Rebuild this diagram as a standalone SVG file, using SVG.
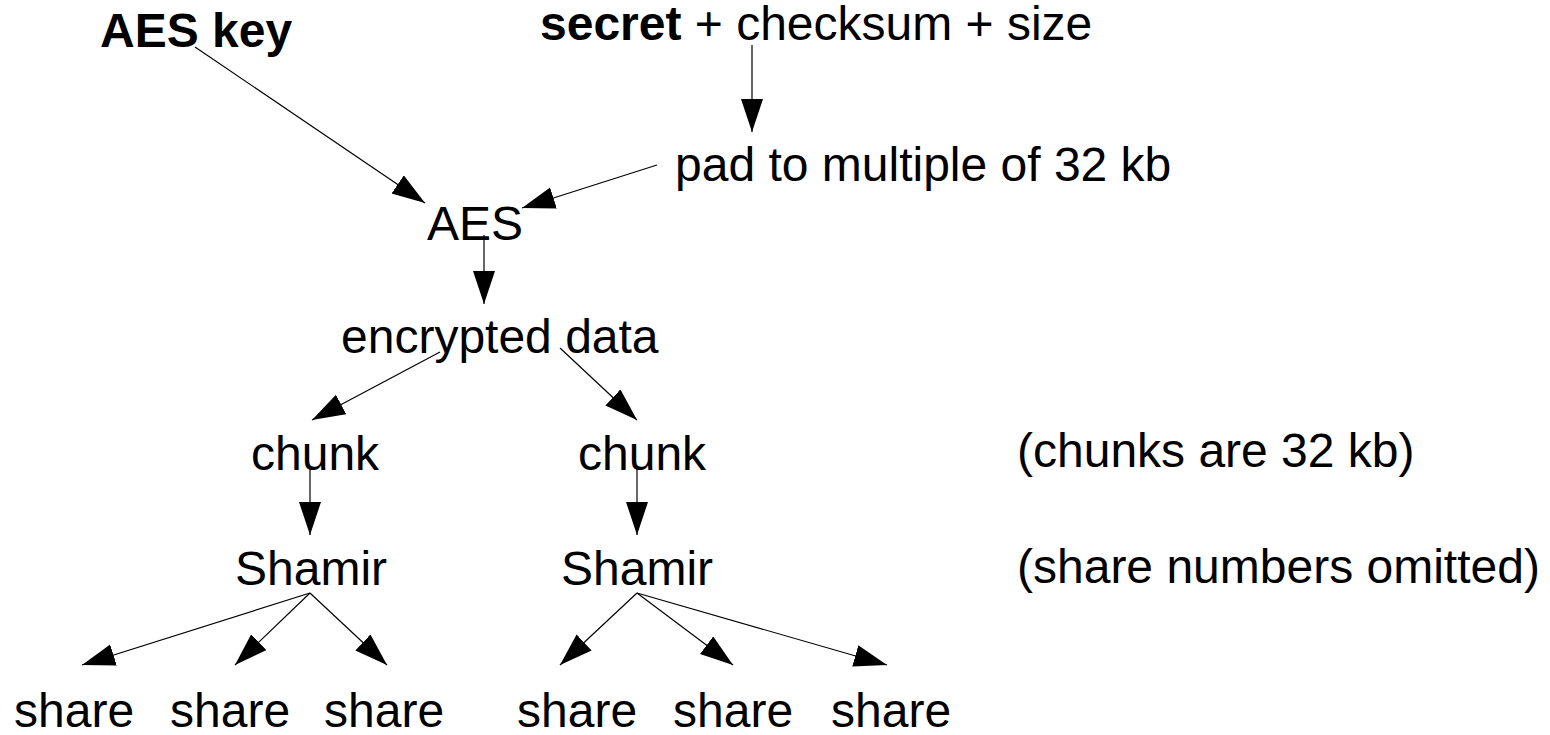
<svg xmlns="http://www.w3.org/2000/svg" width="1550" height="735" viewBox="0 0 1550 735">
<style>
text{font-family:"Liberation Sans",Arial,sans-serif;font-size:48px;fill:#000}
.b{font-weight:bold}
.c line{stroke:#000;stroke-width:1.2;marker-end:url(#ah)}
</style>
<defs>
<marker id="ah" markerUnits="userSpaceOnUse" markerWidth="34" markerHeight="23" refX="33" refY="11" orient="auto" viewBox="0 0 34 23">
<path d="M0,0 L33,11 L0,22 z" fill="#000"/>
</marker>
</defs>
<rect width="1550" height="735" fill="#fff"/>
<g id="connectors" class="c">
<line x1="195" y1="47" x2="425" y2="203"/>
<line x1="752" y1="45" x2="752" y2="132"/>
<line x1="657" y1="165" x2="522" y2="208"/>
<line x1="484" y1="235" x2="484" y2="304"/>
<line x1="440" y1="352" x2="312" y2="420"/>
<line x1="560" y1="348" x2="637" y2="420"/>
<line x1="310" y1="468" x2="310" y2="535"/>
<line x1="637" y1="468" x2="637" y2="535"/>
<line x1="310" y1="593" x2="82" y2="665"/>
<line x1="310" y1="593" x2="235" y2="665"/>
<line x1="310" y1="593" x2="387" y2="665"/>
<line x1="637" y1="593" x2="560" y2="665"/>
<line x1="637" y1="593" x2="733" y2="665"/>
<line x1="637" y1="593" x2="887" y2="665"/>
</g>
<g id="aeskey"><text x="100" y="47" class="b">AES key</text></g>
<g id="secret"><text x="540" y="40"><tspan class="b">secret</tspan> + checksum + size</text></g>
<g id="pad"><text x="675" y="181">pad to multiple of 32 kb</text></g>
<g id="aes"><text x="427" y="240">AES</text></g>
<g id="encrypted"><text x="341" y="353">encrypted data</text></g>
<g id="chunk1"><text x="251" y="470">chunk</text></g>
<g id="chunk2"><text x="578" y="470">chunk</text></g>
<g id="shamir1"><text x="235" y="585">Shamir</text></g>
<g id="shamir2"><text x="561" y="585">Shamir</text></g>
<g id="share1"><text x="14" y="727">share</text></g>
<g id="share2"><text x="170" y="727">share</text></g>
<g id="share3"><text x="324" y="727">share</text></g>
<g id="share4"><text x="517" y="727">share</text></g>
<g id="share5"><text x="673" y="727">share</text></g>
<g id="share6"><text x="831" y="727">share</text></g>
<g id="note1"><text x="1017" y="467">(chunks are 32 kb)</text></g>
<g id="note2"><text x="1017" y="583">(share numbers omitted)</text></g>
</svg>
